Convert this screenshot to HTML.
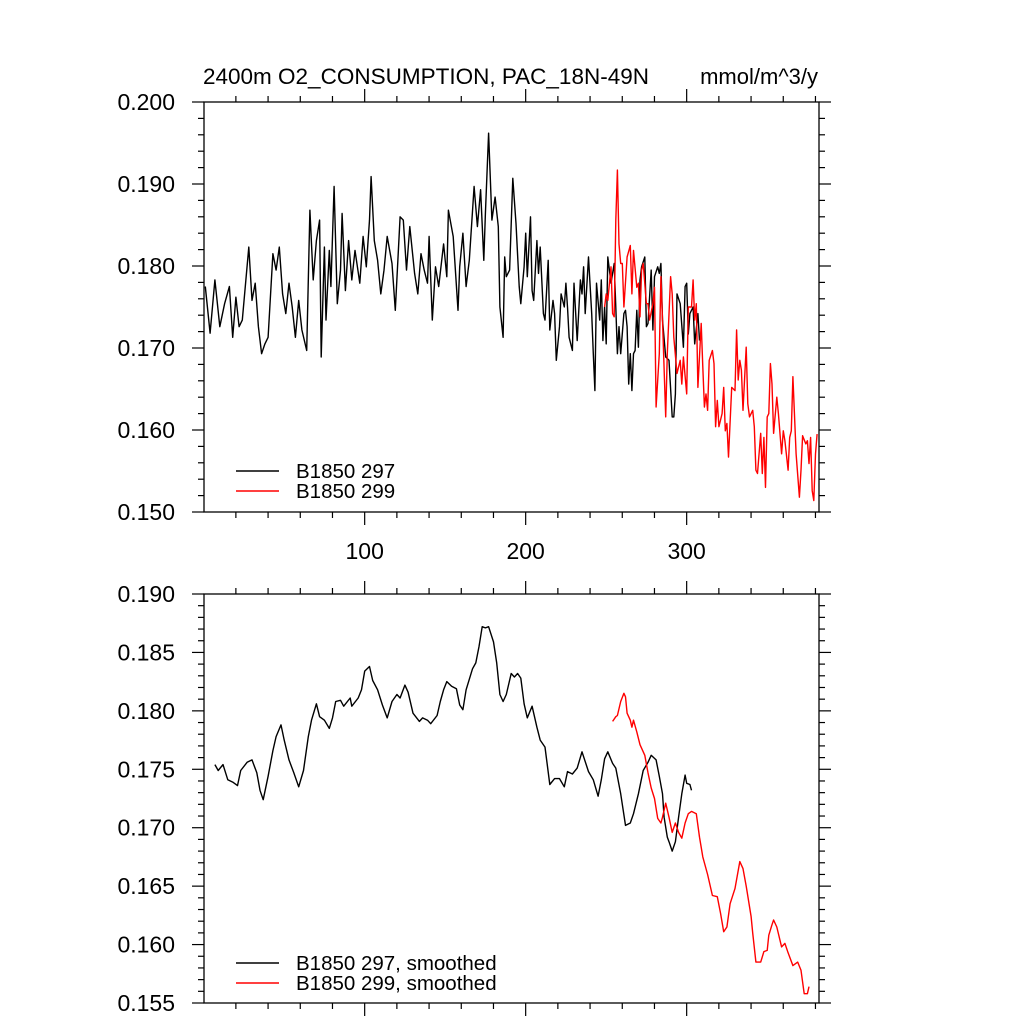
<!DOCTYPE html>
<html><head><meta charset="utf-8"><style>
body{margin:0;background:#fff}
svg{display:block;font-family:"Liberation Sans",Arial,sans-serif}
</style></head><body>
<svg id="chart" width="1024" height="1024" viewBox="0 0 1024 1024" xmlns="http://www.w3.org/2000/svg">
<rect width="1024" height="1024" fill="#fff"/>
<text x="203" y="84" font-size="22.5">2400m O2_CONSUMPTION, PAC_18N-49N</text>
<text x="818" y="84" font-size="22" text-anchor="end">mmol/m^3/y</text>
<g id="g1"></g>
<g id="g2"></g>
</svg>
<script>
const blackYears=[1,4,7,10,13,16,18,20,22,24,28,30,32,34,36,38,40,43,45,47,49,51,53,55,57,59,61,64,66,68,70,72,73,75,76,78,79,81,83,85,86,88,90,92,94,97,99,101,103,104,106,108,110,112,114,117,119,122,124,126,128,131,133,135,137,139,140,142,144,146,149,151,152,155,158,159,161,163,165,168,170,172,174,175,177,179,181,183,184,186,187,188,190,192,194,196,197,199,200,201,203,204,205,207,208,209,211,212,213,214,215,217,218,219,221,222,224,225,226,227,229,230,232,234,235,236,237,239,241,242,243,244,246,247,248,249,250,251,253,255,256,257,258,259,261,262,263,264,265,266,267,268,269,270,271,272,274,275,276,278,279,280,282,283,284,285,287,289,291,292,293,294,296,298,299,300,301,302,304,305,307,308];
const blackValues=[0.1775,0.1718,0.1783,0.1726,0.1754,0.1775,0.1713,0.1762,0.1726,0.1734,0.1823,0.1758,0.1779,0.1726,0.1693,0.1705,0.1713,0.1815,0.1795,0.1823,0.1766,0.1742,0.1779,0.1750,0.1713,0.1758,0.1722,0.1697,0.1868,0.1783,0.1831,0.1856,0.1689,0.1823,0.1734,0.1819,0.1775,0.1897,0.1754,0.1795,0.1864,0.1770,0.1831,0.1783,0.1819,0.1779,0.1836,0.1799,0.1856,0.1909,0.1831,0.1807,0.1766,0.1795,0.1836,0.1803,0.1746,0.1860,0.1856,0.1795,0.1848,0.1791,0.1766,0.1815,0.1795,0.1779,0.1836,0.1734,0.1799,0.1775,0.1827,0.1787,0.1868,0.1836,0.1746,0.1799,0.1840,0.1775,0.1807,0.1897,0.1848,0.1893,0.1807,0.1864,0.1962,0.1856,0.1884,0.1848,0.1750,0.1713,0.1811,0.1787,0.1795,0.1907,0.1852,0.1775,0.1754,0.1799,0.1840,0.1787,0.1860,0.1770,0.1758,0.1831,0.1791,0.1823,0.1742,0.1734,0.1770,0.1807,0.1722,0.1758,0.1742,0.1685,0.1726,0.1766,0.1750,0.1779,0.1750,0.1713,0.1697,0.1779,0.1709,0.1783,0.1766,0.1799,0.1742,0.1811,0.1742,0.1693,0.1648,0.1779,0.1734,0.1783,0.1709,0.1750,0.1705,0.1811,0.1779,0.1803,0.1750,0.1693,0.1726,0.1693,0.1742,0.1746,0.1726,0.1656,0.1693,0.1648,0.1693,0.1697,0.1746,0.1701,0.1783,0.1799,0.1811,0.1726,0.1730,0.1795,0.1722,0.1787,0.1799,0.1791,0.1803,0.1734,0.1689,0.1685,0.1616,0.1616,0.1644,0.1766,0.1754,0.1701,0.1775,0.1779,0.1717,0.1742,0.1750,0.1705,0.1742,0.1709];
const redYears=[249,250,251,253,254,255,256,257,258,259,260,261,263,265,266,267,269,270,271,272,273,275,276,277,279,280,281,283,284,285,287,288,290,291,292,294,296,297,298,300,301,303,304,305,306,307,309,310,311,312,313,314,316,317,318,319,320,322,323,324,325,326,328,330,331,332,333,334,335,337,338,339,341,342,343,344,346,347,348,349,350,351,352,353,354,356,357,359,360,361,363,364,365,366,368,370,371,372,374,375,376,377,378,379,380,381];
const redValues=[0.1750,0.1766,0.1758,0.1799,0.1742,0.1738,0.1856,0.1917,0.1827,0.1803,0.1803,0.1750,0.1811,0.1825,0.1766,0.1819,0.1774,0.1779,0.1738,0.1795,0.1803,0.1754,0.1754,0.1734,0.1754,0.1774,0.1628,0.1693,0.1787,0.1734,0.1616,0.1693,0.1787,0.1766,0.1713,0.1669,0.1685,0.1656,0.1689,0.1644,0.1750,0.1750,0.1783,0.1734,0.1754,0.1652,0.1730,0.1677,0.1628,0.1644,0.1624,0.1685,0.1697,0.1681,0.1604,0.1636,0.1604,0.1620,0.1652,0.1599,0.1608,0.1567,0.1652,0.1648,0.1722,0.1661,0.1685,0.1673,0.1624,0.1701,0.1632,0.1616,0.1624,0.1604,0.1551,0.1547,0.1596,0.1547,0.1591,0.1530,0.1616,0.1620,0.1681,0.1656,0.1596,0.1640,0.1620,0.1571,0.1599,0.1587,0.1551,0.1591,0.1599,0.1665,0.1571,0.1518,0.1551,0.1593,0.1583,0.1587,0.1559,0.1591,0.1526,0.1514,0.1571,0.1595];
const smBlackYears=[7,9,12,15,18,21,23,27,30,33,35,37,40,43,45,48,50,53,56,59,62,65,67,70,72,75,78,80,82,85,87,91,92,96,98,100,103,105,108,111,114,117,120,122,125,127,130,134,136,139,141,145,147,149,151,154,157,159,161,163,167,169,171,173,175,177,180,182,184,186,188,191,193,195,197,199,201,204,207,209,212,215,218,221,224,226,229,232,235,239,242,245,247,249,251,254,256,259,262,265,267,270,273,276,278,281,283,285,286,288,289,291,293,295,297,299,300,302,303];
const smBlackValues=[0.1754,0.1749,0.1754,0.1741,0.1739,0.1736,0.1749,0.1756,0.1758,0.1747,0.1732,0.1724,0.1744,0.1766,0.1778,0.1788,0.1775,0.1758,0.1747,0.1735,0.1749,0.1778,0.1792,0.1806,0.1795,0.1792,0.1785,0.1794,0.1808,0.1809,0.1804,0.1811,0.1804,0.1811,0.1818,0.1834,0.1838,0.1826,0.1818,0.1805,0.1794,0.1808,0.1814,0.1811,0.1822,0.1816,0.1798,0.1791,0.1794,0.1792,0.1789,0.1796,0.1808,0.1818,0.1825,0.1821,0.1819,0.1805,0.1801,0.1818,0.1836,0.1841,0.1855,0.1872,0.1871,0.1872,0.1859,0.1841,0.1814,0.1808,0.1814,0.1832,0.1829,0.1832,0.1828,0.1806,0.1794,0.1804,0.1786,0.1775,0.1769,0.1737,0.1742,0.1742,0.1735,0.1748,0.1746,0.1751,0.1765,0.1748,0.1741,0.1727,0.1741,0.1759,0.1765,0.1755,0.1751,0.1729,0.1702,0.1704,0.1712,0.1729,0.1749,0.1756,0.1762,0.1758,0.1744,0.1729,0.1709,0.1692,0.1688,0.1680,0.1688,0.1709,0.1729,0.1745,0.1738,0.1737,0.1732];
const smRedYears=[254,256,257,259,261,262,263,265,266,267,269,271,274,276,278,280,282,284,285,287,289,291,293,295,297,299,301,303,306,308,310,313,316,319,321,323,325,327,330,333,335,337,340,341,343,346,348,350,351,353,354,356,359,361,363,366,369,371,373,375,376];
const smRedValues=[0.1791,0.1795,0.1796,0.1808,0.1815,0.1812,0.1798,0.1792,0.1786,0.1792,0.1782,0.1771,0.1762,0.1747,0.1734,0.1725,0.1708,0.1704,0.1709,0.1721,0.1709,0.1696,0.1704,0.1696,0.1691,0.1704,0.1712,0.1714,0.1712,0.1692,0.1675,0.1660,0.1642,0.1641,0.1627,0.1611,0.1615,0.1635,0.1648,0.1671,0.1665,0.1650,0.1624,0.1610,0.1585,0.1585,0.1594,0.1595,0.1608,0.1617,0.1621,0.1615,0.1598,0.1601,0.1593,0.1582,0.1585,0.1578,0.1558,0.1558,0.1564];
const topYTicks=["0.150","0.160","0.170","0.180","0.190","0.200"];
const botYTicks=["0.155","0.160","0.165","0.170","0.175","0.180","0.185","0.190"];
const xTickLabels=["100","200","300"];

const NS="http://www.w3.org/2000/svg";
const X0=204,X1=819,XMIN=0.2,XMAX=382.2;
function xs(v){return X0+(v-XMIN)/(XMAX-XMIN)*(X1-X0);}
function mk(tag,attrs,parent){const e=document.createElementNS(NS,tag);for(const k in attrs)e.setAttribute(k,attrs[k]);parent.appendChild(e);return e;}

function panel(g,top,bot,ymin,ymax,major,minor,yticks,xlabels,series,legend,legY){
  const ys=v=>bot-(v-ymin)/(ymax-ymin)*(bot-top);
  const st={stroke:"#000","stroke-width":1.2};
  const nMin=Math.round((ymax-ymin)/minor);
  for(let i=0;i<=nMin;i++){
    const v=ymin+i*minor,y=ys(v);
    const isMaj=Math.abs(((v-ymin)/major)-Math.round((v-ymin)/major))<1e-6;
    const L=isMaj?12:6;
    const t1=mk("line",Object.assign({x1:X0-L,x2:X0,y1:y,y2:y},st),g);
    
    
    const t2=mk("line",Object.assign({x1:X1,x2:X1+L,y1:y,y2:y},st),g);
    
    
  }
  yticks.forEach(s=>{
    const t=mk("text",{x:175,y:ys(parseFloat(s))+8,"font-size":23,"text-anchor":"end"},g);
    t.textContent=s;
    
    
  });
  for(let v=20;v<=380;v+=20){
    const x=xs(v),L=(v%100===0)?13:6;
    const a=mk("line",Object.assign({x1:x,x2:x,y1:bot,y2:bot+L},st),g);
    
    
    const b=mk("line",Object.assign({x1:x,x2:x,y1:top,y2:top-L},st),g);
    
    
  }
  if(xlabels){xlabels.forEach(s=>{
    const t=mk("text",{x:xs(parseFloat(s)),y:559,"font-size":23,"text-anchor":"middle"},g);
    t.textContent=s;
    
    
  });}
  series.forEach(sr=>{
    const d=sr.years.map((yr,i)=>(i?"L":"M")+xs(yr).toFixed(1)+","+ys(sr.vals[i]).toFixed(1)).join("");
    const p=mk("path",{d:d,fill:"none",stroke:sr.color,"stroke-width":1.4,"stroke-linejoin":"round"},g);
    
    
  });
  const fr=mk("rect",{x:X0,y:top,width:X1-X0,height:bot-top,fill:"none",stroke:"#000","stroke-width":1.3},g);
  
  
  legend.forEach((lg,i)=>{
    const y=legY+i*20;
    const l=mk("line",{x1:236,x2:279,y1:y,y2:y,stroke:lg.color,"stroke-width":1.6},g);
    
    
    const t=mk("text",{x:296,y:y+7,"font-size":20.5},g);
    t.textContent=lg.label;
    
    
  });
}
panel(document.getElementById("g1"),102,512,0.150,0.200,0.010,0.002,topYTicks,xTickLabels,
 [{years:blackYears,vals:blackValues,color:"#000",name:"series-b1850-297"},{years:redYears,vals:redValues,color:"#ff0000",name:"series-b1850-299"}],
 [{color:"#000",label:"B1850 297"},{color:"#ff0000",label:"B1850 299"}],471);
panel(document.getElementById("g2"),594,1003,0.155,0.190,0.005,0.001,botYTicks,null,
 [{years:smBlackYears,vals:smBlackValues,color:"#000",name:"series-b1850-297-smoothed"},{years:smRedYears,vals:smRedValues,color:"#ff0000",name:"series-b1850-299-smoothed"}],
 [{color:"#000",label:"B1850 297, smoothed"},{color:"#ff0000",label:"B1850 299, smoothed"}],963);
</script>
</body></html>
